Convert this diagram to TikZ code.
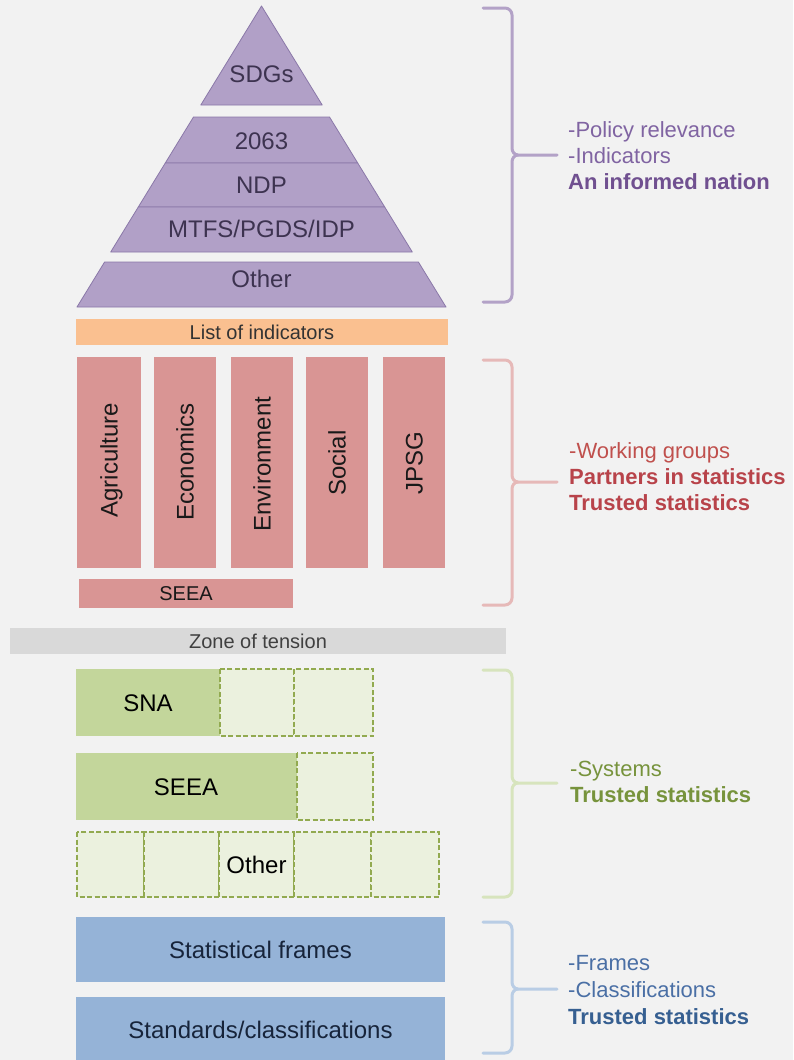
\documentclass[tikz,border=0pt]{standalone}
\usepackage{fontspec}
\setmainfont{Liberation Sans}
\definecolor{bg}{HTML}{F2F2F2}
\definecolor{pyrfill}{HTML}{B1A0C7}
\definecolor{pyredge}{HTML}{8A78A8}
\definecolor{pyrtext}{HTML}{3D3350}
\definecolor{orangefill}{HTML}{FAC090}
\definecolor{redfill}{HTML}{D99594}
\definecolor{greyfill}{HTML}{D9D9D9}
\definecolor{greenfill}{HTML}{C3D69B}
\definecolor{greenlight}{HTML}{EBF1DE}
\definecolor{greendash}{HTML}{92AA50}
\definecolor{bluefill}{HTML}{95B3D7}
\definecolor{bluetext}{HTML}{17243A}
\definecolor{brpurple}{HTML}{B3A2C7}
\definecolor{brred}{HTML}{E6B9B8}
\definecolor{brgreen}{HTML}{D7E4BD}
\definecolor{brblue}{HTML}{B9CDE5}
\definecolor{txpurple}{HTML}{8064A2}
\definecolor{txpurpleb}{HTML}{705090}
\definecolor{txred}{HTML}{C0504D}
\definecolor{txredb}{HTML}{B8434A}
\definecolor{txgreen}{HTML}{77933C}
\definecolor{txblue}{HTML}{4A6FA5}
\definecolor{txblueb}{HTML}{365F91}
\newcommand\mybrace[4]{%
  \draw[#1, line width=3pt, line cap=round, line join=round]
    (483,#2) -- (505,#2) to[out=0,in=90] (512,#2+7) -- (512,#3-7)
    to[out=-90,in=180] (518,#3) -- (557,#3);
  \draw[#1, line width=3pt, line cap=round, line join=round]
    (518,#3) to[out=180,in=90] (512,#3+7) -- (512,#4-7)
    to[out=-90,in=0] (505,#4) -- (483,#4);}
\begin{document}
\begin{tikzpicture}[x=1pt,y=-1pt,
  lbl24/.style={font=\fontsize{24}{28}\selectfont, text height=17.2pt, text depth=0pt, inner sep=0pt},
  lbl20/.style={font=\fontsize{20}{24}\selectfont, text height=14.3pt, text depth=0pt, inner sep=0pt},
  side/.style={font=\fontsize{22}{26}\selectfont, anchor=base west, inner sep=0pt},
  sideb/.style={side, font=\fontsize{22}{26}\selectfont\bfseries},
  pyr/.style={fill=pyrfill, draw=pyredge, line width=0.8pt, line join=round},
  dashbox/.style={fill=greenlight, draw=greendash, line width=1.4pt, dash pattern=on 5pt off 2.5pt}
]
\useasboundingbox (0,0) rectangle (793,1060);
\fill[bg] (0,0) rectangle (793,1060);

% ---------- Pyramid ----------
\draw[pyr] (261.5,6) -- (322.2,105) -- (200.8,105) -- cycle;
\draw[pyr] (193.5,117) -- (329.5,117) -- (357.7,163) -- (165.3,163) -- cycle;
\draw[pyr] (165.3,163) -- (357.7,163) -- (384.7,207) -- (138.3,207) -- cycle;
\draw[pyr] (138.3,207) -- (384.7,207) -- (412.3,252) -- (110.7,252) -- cycle;
\draw[pyr] (104.6,262) -- (418.4,262) -- (446,307) -- (77,307) -- cycle;
\node[lbl24, text=pyrtext] (sdg) at (261.5,73.5) {SDGs};
\node[lbl24, text=pyrtext] (y2063) at (261.5,141) {2063};
\node[lbl24, text=pyrtext] (ndp) at (261.5,184.5) {NDP};
\node[lbl24, text=pyrtext] (mtfs) at (261.5,229) {MTFS/PGDS/IDP};
\node[lbl24, text=pyrtext] (pother) at (261.5,279) {Other};

% ---------- Indicators ----------
\fill[orangefill] (76,319) rectangle (448,345);
\node[lbl20, text=black!80] (list) at (262,332) {List of indicators};
\fill[redfill] (77,357) rectangle (141,568);
\fill[redfill] (154,357) rectangle (216,568);
\fill[redfill] (231,357) rectangle (293,568);
\fill[redfill] (306,357) rectangle (368,568);
\fill[redfill] (383,357) rectangle (445,568);
\node[lbl24, rotate=90, text=black!90] (agr) at (109,460) {Agriculture};
\node[lbl24, rotate=90, text=black!90] (eco) at (185,462) {Economics};
\node[lbl24, rotate=90, text=black!90] (env) at (262,464) {Environment};
\node[lbl24, rotate=90, text=black!90] (soc) at (337,463) {Social};
\node[lbl24, rotate=90, text=black!90] (jpsg) at (414,463) {JPSG};
\fill[redfill] (79,579) rectangle (293,608);
\node[lbl20, text=black!90] (seeared) at (186,593.5) {SEEA};

% ---------- Zone of tension ----------
\fill[greyfill] (10,628) rectangle (506,654);
\node[lbl20, text=black!75] (zone) at (258,641) {Zone of tension};

% ---------- Systems ----------
\fill[greenfill] (76,669) rectangle (220,736);
\draw[dashbox] (220,669) rectangle (294,736);
\draw[dashbox] (294,669) rectangle (373,736);
\node[lbl24] (sna) at (148,702.5) {SNA};
\fill[greenfill] (76,753) rectangle (297,820);
\draw[dashbox] (297,753) rectangle (373,820);
\node[lbl24] (seeag) at (186,786.5) {SEEA};
\draw[dashbox] (77,832) rectangle (144,897);
\draw[dashbox] (144,832) rectangle (219,897);
\draw[dashbox] (219,832) rectangle (294,897);
\draw[dashbox] (294,832) rectangle (371,897);
\draw[dashbox] (371,832) rectangle (439,897);
\node[lbl24] (sother) at (256.5,865) {Other};

% ---------- Frames ----------
\fill[bluefill] (76,917) rectangle (445,982);
\node[lbl24, text=bluetext] (frames) at (260.5,949.5) {Statistical frames};
\fill[bluefill] (76,997) rectangle (445,1060);
\node[lbl24, text=bluetext] (stand) at (260.5,1030) {Standards/classifications};

% ---------- Braces ----------
\mybrace{brpurple}{8}{155}{302}
\mybrace{brred}{360}{482}{605}
\mybrace{brgreen}{670}{783}{897}
\mybrace{brblue}{922}{989}{1053}

% ---------- Side texts ----------
\node[side, text=txpurple] (p1) at (568,137) {-Policy relevance};
\node[side, text=txpurple] (p2) at (568,163) {-Indicators};
\node[sideb, text=txpurpleb] (p3) at (568,189) {An informed nation};
\node[side, text=txred] (r1) at (569,458) {-Working groups};
\node[sideb, text=txredb] (r2) at (569,484) {Partners in statistics};
\node[sideb, text=txredb] (r3) at (569,510) {Trusted statistics};
\node[side, text=txgreen] (g1) at (570,776) {-Systems};
\node[sideb, text=txgreen] (g2) at (570,802) {Trusted statistics};
\node[side, text=txblue] (b1) at (568,970) {-Frames};
\node[side, text=txblue] (b2) at (568,997) {-Classifications};
\node[sideb, text=txblueb] (b3) at (568,1024) {Trusted statistics};
\end{tikzpicture}
\end{document}
